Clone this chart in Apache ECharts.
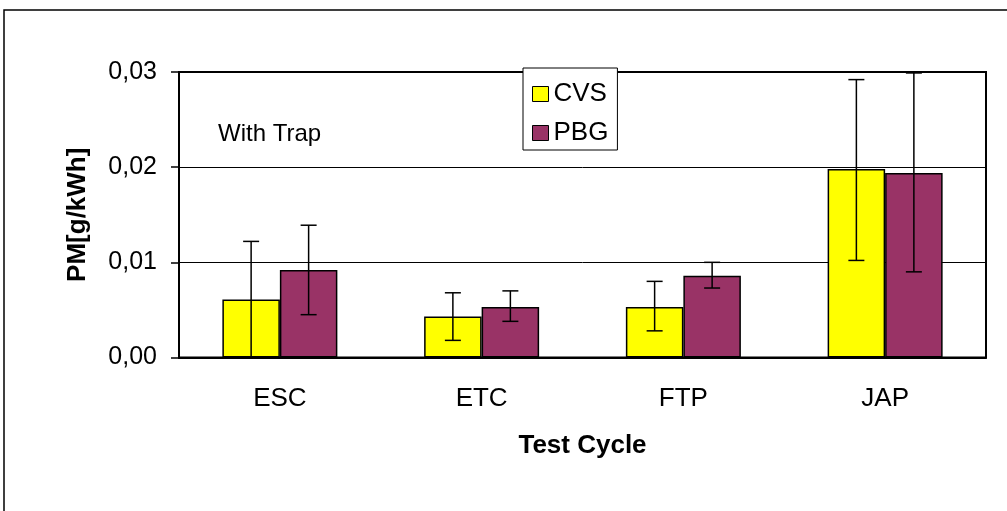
<!DOCTYPE html>
<html>
<head>
<meta charset="utf-8">
<script src="https://cdn.jsdelivr.net/npm/echarts@6/dist/echarts.min.js"></script>
<style>
html,body{margin:0;padding:0;background:#fff;}
#chart{width:1007px;height:511px;}
</style>
</head>
<body>
<div id="chart"></div>
<script>
var categories = ['ESC', 'ETC', 'FTP', 'JAP'];
var seriesNames = ['CVS', 'PBG'];
var cvsValues = [0.0061, 0.0043, 0.0053, 0.0198];
var pbgValues = [0.0092, 0.0053, 0.0086, 0.0194];
var cvsErrLow = [0.0000, 0.0018, 0.0028, 0.0102];
var cvsErrHigh = [0.0122, 0.0068, 0.0080, 0.0292];
var pbgErrLow = [0.0045, 0.0038, 0.0073, 0.0090];
var pbgErrHigh = [0.0139, 0.0070, 0.0100, 0.0299];

var FONT = 'Liberation Sans, Arial, sans-serif';
var GAP = 0.43;

function errData(lows, highs) {
  return categories.map(function (c, i) { return [i, lows[i], highs[i]]; });
}
function errRender(side) {
  return function (params, api) {
    var idx = api.value(0);
    var band = api.size([1, 0])[0];
    var barW = band * (1 - GAP) / 2;
    var lo = api.coord([idx, api.value(1)]);
    var hi = api.coord([idx, api.value(2)]);
    var x = lo[0] + side * barW / 2;
    var cap = 8;
    var st = { stroke: '#000', lineWidth: 1.5 };
    return {
      type: 'group',
      children: [
        { type: 'line', shape: { x1: x, y1: lo[1], x2: x, y2: hi[1] }, style: st },
        { type: 'line', shape: { x1: x - cap, y1: lo[1], x2: x + cap, y2: lo[1] }, style: st },
        { type: 'line', shape: { x1: x - cap, y1: hi[1], x2: x + cap, y2: hi[1] }, style: st }
      ]
    };
  };
}

var chart = echarts.init(document.getElementById('chart'), null, { renderer: 'canvas' });
chart.setOption({
  animation: false,
  backgroundColor: '#fff',
  textStyle: { fontFamily: FONT },
  graphic: [
    { type: 'rect', shape: { x: 4, y: 10, width: 1020, height: 520 }, style: { fill: 'none', stroke: '#000', lineWidth: 1.5 }, z: 0 },
    { type: 'text', left: 218, top: 122, style: { text: 'With Trap', font: '24px ' + FONT, fill: '#000' }, z: 10 }
  ],
  legend: {
    data: seriesNames,
    orient: 'vertical',
    left: 523,
    top: 68,
    padding: [13, 9, 4, 9],
    itemWidth: 16,
    itemHeight: 15,
    itemGap: 13,
    itemTextGap: 9,
    icon: 'rect',
    backgroundColor: '#fff',
    borderColor: '#000',
    borderWidth: 1,
    borderRadius: 0,
    textStyle: { fontSize: 26, color: '#000', fontFamily: FONT },
    itemStyle: { borderColor: '#000', borderWidth: 1 },
    z: 20
  },
  grid: {
    left: 179, top: 72, right: 21, bottom: 153.5,
    show: true, borderColor: '#000', borderWidth: 2, backgroundColor: 'transparent'
  },
  xAxis: {
    type: 'category',
    data: categories,
    name: 'Test Cycle',
    nameLocation: 'middle',
    nameGap: 75,
    nameTextStyle: { fontSize: 26, fontWeight: 'bold', color: '#000', fontFamily: FONT },
    axisLine: { lineStyle: { color: '#000', width: 2 } },
    axisTick: { show: false },
    axisLabel: { fontSize: 26, color: '#000', margin: 28, fontFamily: FONT },
    splitLine: { show: false }
  },
  yAxis: {
    type: 'value',
    min: 0, max: 0.03, interval: 0.01,
    name: 'PM[g/kWh]',
    nameLocation: 'middle',
    nameGap: 88,
    nameTextStyle: { fontSize: 26, fontWeight: 'bold', color: '#000', fontFamily: FONT },
    axisLine: { show: true, lineStyle: { color: '#000', width: 2 } },
    axisTick: { show: true, length: 8, lineStyle: { color: '#000', width: 1.5 } },
    axisLabel: {
      fontSize: 25, color: '#000', margin: 22, fontFamily: FONT,
      formatter: function (v) { return v.toFixed(2).replace('.', ','); }
    },
    splitLine: { show: true, lineStyle: { color: '#000', width: 1 } }
  },
  series: [
    {
      name: 'CVS', type: 'bar', data: cvsValues,
      barGap: '0%', barCategoryGap: (GAP * 100) + '%',
      itemStyle: { color: '#FFFF00', borderColor: '#000', borderWidth: 1.5 }
    },
    {
      name: 'PBG', type: 'bar', data: pbgValues,
      barGap: '0%', barCategoryGap: (GAP * 100) + '%',
      itemStyle: { color: '#993366', borderColor: '#000', borderWidth: 1.5 }
    },
    {
      type: 'custom', name: 'CVS err', data: errData(cvsErrLow, cvsErrHigh),
      renderItem: errRender(-1), encode: { x: 0, y: [1, 2] }, z: 5, silent: true
    },
    {
      type: 'custom', name: 'PBG err', data: errData(pbgErrLow, pbgErrHigh),
      renderItem: errRender(1), encode: { x: 0, y: [1, 2] }, z: 5, silent: true
    }
  ]
});
</script>
</body>
</html>
